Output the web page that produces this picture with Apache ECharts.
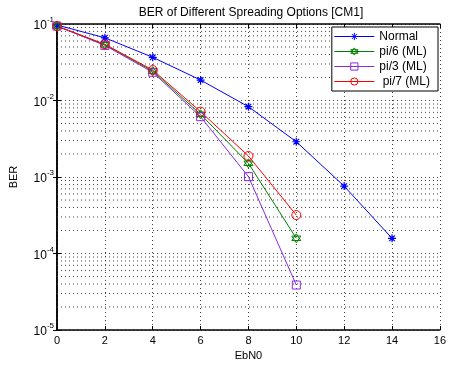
<!DOCTYPE html>
<html><head><meta charset="utf-8">
<script src="https://cdn.jsdelivr.net/npm/echarts@6/dist/echarts.min.js"></script>
<style>html,body{margin:0;padding:0;background:#fff}#c{width:449px;height:367px}</style>
</head><body><div id="c"></div>
<script>
const titleText = 'BER of Different Spreading Options [CM1]';
const xName = 'EbN0';
const yName = 'BER';
const ebn0Normal = [0, 2, 4, 6, 8, 10, 12, 14];
const berNormal = [0.097, 0.066, 0.0367, 0.0185, 0.0083, 0.00289, 0.00076, 0.000158];
const ebn0ML = [0, 2, 4, 6, 8, 10];
const berPi6 = [0.094, 0.0535, 0.0242, 0.0066, 0.00151, 0.000158];
const berPi3 = [0.094, 0.0525, 0.0234, 0.00614, 0.00101, 0.0000387];
const berPi7 = [0.094, 0.0543, 0.025, 0.00715, 0.00188, 0.000318];
const seriesNames = ['Normal', 'pi/6 (ML)', 'pi/3 (ML)', ' pi/7 (ML)'];
const seriesColors = ['#0000ff', '#008000', '#8a2be2', '#ff0000'];
const yDecades = [1e-5, 1e-4, 1e-3, 1e-2, 1e-1];
const xMin = 0, xMax = 16, xStep = 2;

const zip = (xs, ys) => xs.map((x, i) => [x, ys[i]]);
const minorVals = [];
for (let d = 0; d < yDecades.length - 1; d++) {
  for (let k = 2; k <= 9; k++) minorVals.push(+(yDecades[d] * k).toPrecision(3));
}
const ASTER = 'path://M0,-10L0,10M-10,0L10,0M-7,-7L7,7M-7,7L7,-7';
const HEXA = 'path://M0,-10L8.66,5L-8.66,5ZM0,10L8.66,-5L-8.66,-5Z';
const font = 'Liberation Sans, Arial, sans-serif';
const dotted = {color: '#444', type: [1, 3], width: 1};
const clear = 'rgba(255,255,255,0)';

const minorSeries = minorVals.map(v => ({
  type: 'line', data: [[xMin, v], [xMax, v]], symbol: 'none', silent: true, z: 1,
  lineStyle: dotted, legendHoverLink: false, tooltip: {show: false}
}));

const symbols = [ASTER, HEXA, 'rect', 'circle'];
const sizes = [8, 9, 8, 9];
const xData = [ebn0Normal, ebn0ML, ebn0ML, ebn0ML];
const yData = [berNormal, berPi6, berPi3, berPi7];
const dataSeries = seriesNames.map((n, i) => ({
  name: n, type: 'line', data: zip(xData[i], yData[i]), z: 5,
  color: seriesColors[i], symbol: symbols[i], symbolSize: sizes[i],
  lineStyle: {color: seriesColors[i], width: 1},
  itemStyle: {color: i === 0 ? seriesColors[i] : clear, borderColor: seriesColors[i], borderWidth: i === 0 ? 1.2 : 1}
}));

const chart = echarts.init(document.getElementById('c'), null, {renderer: 'canvas'});
chart.setOption({
  animation: false,
  backgroundColor: '#fff',
  textStyle: {fontFamily: font},
  title: {text: titleText, left: 246, top: 2, textAlign: 'center',
    textStyle: {fontSize: 12, fontWeight: 'normal', color: '#000', fontFamily: font}},
  legend: {
    right: 11, top: 27, orient: 'vertical', itemWidth: 40, itemHeight: 9, itemGap: 0,
    backgroundColor: '#fff', borderColor: '#000', borderWidth: 1, padding: [2, 8, 2, 2],
    textStyle: {fontSize: 12, color: '#000', fontFamily: font, lineHeight: 15},
    lineStyle: {width: 1},
    data: seriesNames.map((n, i) => ({
      name: n,
      lineStyle: {width: 1, color: seriesColors[i]},
      itemStyle: {color: i === 0 ? seriesColors[i] : clear, borderColor: seriesColors[i], borderWidth: 1}
    }))
  },
  grid: {left: 50, right: 8, top: 24, bottom: 37, show: false},
  xAxis: [{
    type: 'value', min: xMin, max: xMax, interval: xStep, position: 'bottom',
    name: xName, nameLocation: 'middle', nameGap: 16,
    nameTextStyle: {fontSize: 11, color: '#000', fontFamily: font},
    axisLine: {lineStyle: {color: '#000', width: 1.5}},
    axisTick: {inside: true, length: 4, lineStyle: {color: '#000'}},
    axisLabel: {fontSize: 11, color: '#000', margin: 5, fontFamily: font},
    splitLine: {show: true, lineStyle: dotted}
  }, {
    type: 'value', min: xMin, max: xMax, interval: xStep, position: 'top',
    axisLine: {lineStyle: {color: '#000', width: 1.5}},
    axisTick: {inside: true, length: 4, lineStyle: {color: '#000'}},
    axisLabel: {show: false}, splitLine: {show: false}
  }],
  yAxis: [{
    type: 'log', logBase: 10, min: yDecades[0], max: yDecades[yDecades.length - 1], position: 'left',
    name: yName, nameLocation: 'middle', nameGap: 38, nameRotate: 90,
    nameTextStyle: {fontSize: 11, color: '#000', fontFamily: font},
    axisLine: {show: true, lineStyle: {color: '#000', width: 1.5}},
    axisTick: {show: true, inside: true, length: 4, lineStyle: {color: '#000'}},
    axisLabel: {
      margin: 3, color: '#000',
      formatter: v => '{b|10}{s|' + Math.round(Math.log10(v)) + '}',
      rich: {
        b: {fontSize: 12, fontFamily: font, color: '#000', lineHeight: 16, verticalAlign: 'bottom'},
        s: {fontSize: 8, fontFamily: font, color: '#000', lineHeight: 16, verticalAlign: 'top'}
      }
    },
    splitLine: {show: true, lineStyle: dotted}
  }, {
    type: 'log', logBase: 10, min: yDecades[0], max: yDecades[yDecades.length - 1], position: 'right',
    axisLine: {show: true, lineStyle: {color: '#000', width: 1.5}},
    axisTick: {show: true, inside: true, length: 4, lineStyle: {color: '#000'}},
    axisLabel: {show: false}, splitLine: {show: false}
  }],
  series: minorSeries.concat(dataSeries)
});
</script></body></html>
